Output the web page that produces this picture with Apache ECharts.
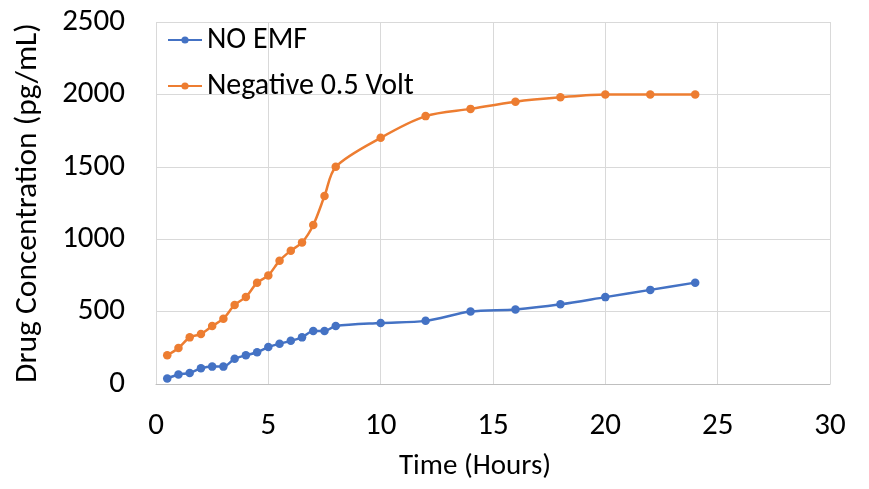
<!DOCTYPE html>
<html><head><meta charset="utf-8">
<script src="https://cdn.jsdelivr.net/npm/echarts@6/dist/echarts.min.js"></script>
<style>html,body{margin:0;padding:0;background:#fff}#c{width:869px;height:489px}</style>
</head><body><div id="c"></div>
<script>
const times = [0.5,1,1.5,2,2.5,3,3.5,4,4.5,5,5.5,6,6.5,7,7.5,8,10,12,14,16,18,20,22,24];
const noEmf = [38,65,76,108,120,120,174,198,219,255,278,298,322,366,366,400,421,436,500,515,550,600,650,700];
const neg05 = [198,249,322,345,400,451,546,601,700,750,852,921,977,1098,1298,1500,1700,1850,1900,1950,1980,2000,2000,2000];
const xTicks = [0,5,10,15,20,25,30];
const yTicks = [0,500,1000,1500,2000,2500];
const seriesNames = ['NO EMF','Negative 0.5 Volt'];
const FONT = 'Carlito, Calibri, Lato, "Open Sans", sans-serif';
const chart = echarts.init(document.getElementById('c'), null, {renderer:'canvas'});
const pair = (xs, ys) => xs.map((x,i)=>[x, ys[i]]);
chart.setOption({
  animation:false,
  textStyle:{fontFamily:FONT},
  grid:{left:156,right:39,top:22,bottom:105},
  legend:{
    orient:'vertical', left:167, top:25, padding:0, itemGap:16, itemWidth:34, itemHeight:9,
    textStyle:{fontSize:30, color:'#000', fontFamily:FONT},
    data:seriesNames
  },
  xAxis:{
    type:'value', min:xTicks[0], max:xTicks[xTicks.length-1], interval:5,
    name:'Time (Hours)', nameLocation:'middle', nameGap:68,
    nameTextStyle:{fontSize:29, color:'#000', fontFamily:FONT, padding:[0,36,0,0]},
    axisLine:{show:true, lineStyle:{color:'#bfbfbf', width:1}},
    axisTick:{show:false},
    axisLabel:{fontSize:31, color:'#000', margin:27, fontFamily:FONT},
    splitLine:{show:true, lineStyle:{color:'#d9d9d9', width:1}}
  },
  yAxis:{
    type:'value', min:yTicks[0], max:yTicks[yTicks.length-1], interval:500,
    name:'Drug Concentration (pg/mL)', nameLocation:'middle', nameGap:112,
    nameTextStyle:{fontSize:31.5, color:'#000', fontFamily:FONT},
    axisLine:{show:false},
    axisTick:{show:false},
    axisLabel:{fontSize:31, color:'#000', margin:31, fontFamily:FONT, formatter:v=>String(v)},
    splitLine:{show:true, lineStyle:{color:'#d9d9d9', width:1}}
  },
  series:[
    {name:seriesNames[0], type:'line', data:pair(times,noEmf), smooth:0.3,
     symbol:'circle', symbolSize:8.5, color:'#4472C4',
     lineStyle:{width:2.5, color:'#4472C4'}, itemStyle:{color:'#4472C4'}},
    {name:seriesNames[1], type:'line', data:pair(times,neg05), smooth:0.3,
     symbol:'circle', symbolSize:8.5, color:'#ED7D31',
     lineStyle:{width:2.5, color:'#ED7D31'}, itemStyle:{color:'#ED7D31'}}
  ]
});
</script></body></html>
